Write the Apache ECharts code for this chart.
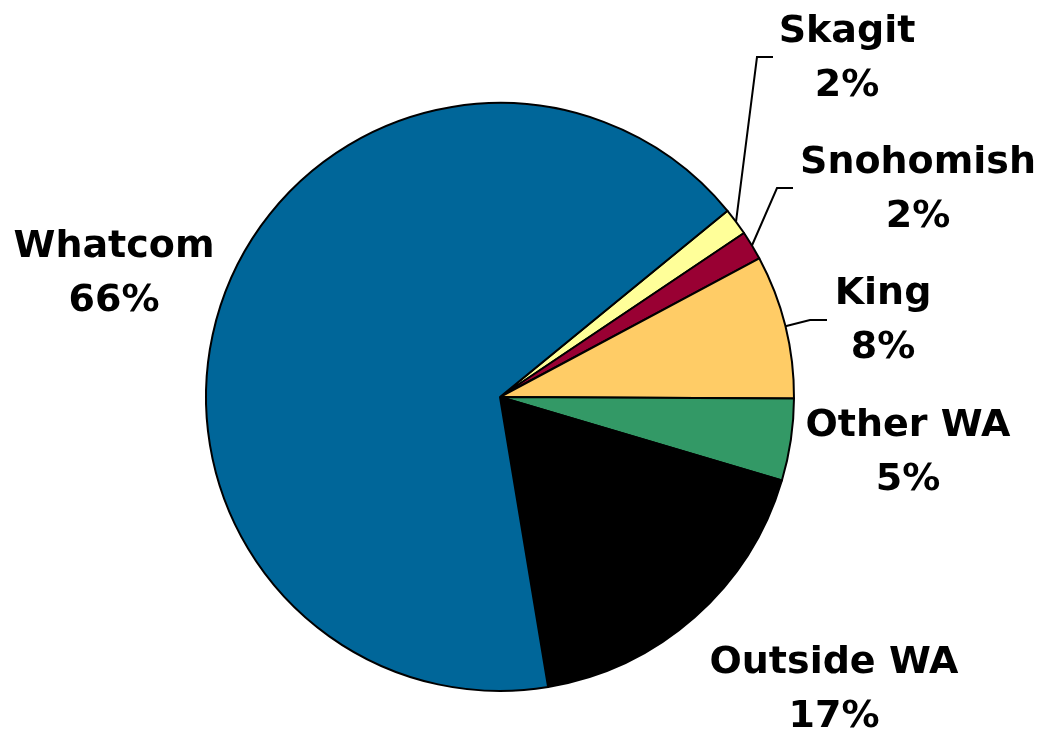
<!DOCTYPE html>
<html>
<head>
<meta charset="utf-8">
<script src="https://cdn.jsdelivr.net/npm/echarts@6/dist/echarts.min.js"></script>
<style>
  html, body { margin: 0; padding: 0; background: #fff; }
  #chart { width: 1039px; height: 732px; }
</style>
</head>
<body>
<div id="chart"></div>
<script>
// slices, clockwise from the Skagit wedge
var regions = ['Skagit', 'Snohomish', 'King', 'Other WA', 'Outside WA', 'Whatcom'];
var shares = [1.5, 1.6, 7.9, 4.5, 17.8, 66.7];
var pctLabels = ['2%', '2%', '8%', '5%', '17%', '66%'];
var colors = ['#FFFF99', '#990033', '#FFCC66', '#339966', '#000000', '#006699'];

// where each label sits, plus the elbow of its leader line (if any)
var labelSpots = {
    'Skagit':     { x: 847, y: 59,  line: [[757, 57], [773, 57]] },
    'Snohomish':  { x: 918, y: 190, line: [[777, 188], [793, 188]] },
    'King':       { x: 883, y: 321, line: [[810, 320], [827, 320]] },
    'Other WA':   { x: 908, y: 453 },
    'Outside WA': { x: 834, y: 690 },
    'Whatcom':    { x: 114, y: 274 }
};

var pieData = regions.map(function (name, i) {
    return {
        name: name,
        value: shares[i],
        itemStyle: { color: colors[i] },
        labelLine: { show: !!labelSpots[name].line }
    };
});

var chart = echarts.init(document.getElementById('chart'));
chart.setOption({
    backgroundColor: '#ffffff',
    animation: false,
    series: [{
        type: 'pie',
        center: [500, 397],
        radius: 294,
        startAngle: 39.3,
        clockwise: true,
        avoidLabelOverlap: false,
        silent: true,
        itemStyle: { borderColor: '#000', borderWidth: 2 },
        label: {
            show: true,
            position: 'outside',
            formatter: function (p) {
                return p.name + '\n' + pctLabels[p.dataIndex];
            },
            fontFamily: 'DejaVu Sans',
            fontWeight: 'bold',
            fontSize: 38,
            lineHeight: 54,
            color: '#000',
            align: 'center'
        },
        labelLine: {
            lineStyle: { color: '#000', width: 2 }
        },
        labelLayout: function (params) {
            var spot = labelSpots[regions[params.dataIndex]];
            var out = {
                x: spot.x,
                y: spot.y,
                align: 'center',
                verticalAlign: 'middle'
            };
            if (spot.line && params.labelLinePoints) {
                out.labelLinePoints = [params.labelLinePoints[0], spot.line[0], spot.line[1]];
            }
            return out;
        },
        data: pieData
    }]
});
</script>
</body>
</html>
